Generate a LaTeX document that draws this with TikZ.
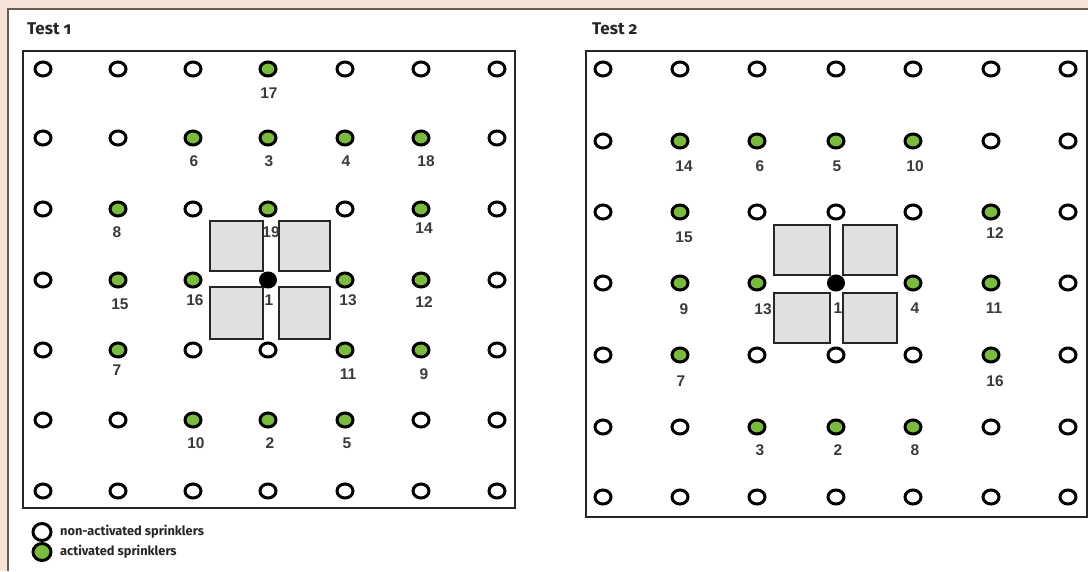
\documentclass[tikz,border=0pt]{standalone}
\usepackage{fontspec}
\setmainfont{Liberation Sans}
\newfontfamily\titlefont[Numbers=OldStyle]{Fira Sans}
\usetikzlibrary{shapes.geometric}
\definecolor{actgreen}{RGB}{122,186,62}
\definecolor{boxgray}{RGB}{224,224,224}
\definecolor{labgray}{RGB}{58,58,58}
\definecolor{peachstrip}{RGB}{246,226,214}
\definecolor{edgebrown}{RGB}{105,90,82}
\begin{document}
\begin{tikzpicture}[x=1pt,y=-1pt,
  spr/.style={ellipse,draw=black,line width=3pt,fill=white,minimum width=16pt,minimum height=14pt,inner sep=0pt},
  act/.style={fill=actgreen},
  centre/.style={fill=black,minimum width=15pt,minimum height=14pt},
  lab/.style={font=\bfseries\fontsize{15.5}{15.5}\selectfont,text=labgray,inner sep=0pt},
  testframe/.style={draw=black!85,line width=2.4pt},
  obst/.style={draw=black!85,line width=1.8pt,fill=boxgray},
  titletext/.style={font=\titlefont\bfseries\fontsize{17}{17}\selectfont,anchor=base west,inner sep=0pt,text=black!85},
  legtext/.style={font=\titlefont\bfseries\fontsize{12.8}{12.8}\selectfont,anchor=west,inner sep=0pt,text=black!85},
  % activated sprinklers, test 1
  t1-1-4/.style=act,
  t1-2-3/.style=act, t1-2-4/.style=act, t1-2-5/.style=act, t1-2-6/.style=act,
  t1-3-2/.style=act, t1-3-4/.style=act, t1-3-6/.style=act,
  t1-4-2/.style=act, t1-4-3/.style=act, t1-4-4/.style=centre, t1-4-5/.style=act, t1-4-6/.style=act,
  t1-5-2/.style=act, t1-5-5/.style=act, t1-5-6/.style=act,
  t1-6-3/.style=act, t1-6-4/.style=act, t1-6-5/.style=act,
  % activated sprinklers, test 2
  t2-2-2/.style=act, t2-2-3/.style=act, t2-2-4/.style=act, t2-2-5/.style=act,
  t2-3-2/.style=act, t2-3-6/.style=act,
  t2-4-2/.style=act, t2-4-3/.style=act, t2-4-4/.style=centre, t2-4-5/.style=act, t2-4-6/.style=act,
  t2-5-2/.style=act, t2-5-6/.style=act,
  t2-6-3/.style=act, t2-6-4/.style=act, t2-6-5/.style=act
]
\useasboundingbox (0,0) rectangle (1088,571);
\fill[white] (0,0) rectangle (1088,571);
% outer page edge
\draw[peachstrip,line width=8pt] (0,4) -- (1088,4);
\draw[peachstrip,line width=7pt] (3.5,0) -- (3.5,571);
\draw[edgebrown,line width=1.4pt] (8,571) -- (8,9) -- (1088,9);

% titles
\node[titletext] (title1) at (27,34) {Test 1};
\node[titletext] (title2) at (592,34) {Test 2};

% frames
\draw[testframe] (23,51) rectangle (515,508);
\draw[testframe] (586,51) rectangle (1087,517);

% obstructions test 1
\draw[obst] (210,221) rectangle (263,271);
\draw[obst] (279,221) rectangle (330,271);
\draw[obst] (210,287) rectangle (263,339);
\draw[obst] (279,287) rectangle (330,339);
% obstructions test 2
\draw[obst] (774,225) rectangle (830,275);
\draw[obst] (843,225) rectangle (897,275);
\draw[obst] (774,293) rectangle (830,343);
\draw[obst] (843,293) rectangle (897,343);

% sprinkler grid test 1
\foreach \r/\y in {1/69,2/138,3/209,4/280,5/350,6/420,7/491}
  \foreach \c/\x in {1/43,2/118,3/193,4/268,5/345,6/421,7/497}
    \node[spr,t1-\r-\c/.try] (a\r\c) at (\x,\y) {};
% sprinkler grid test 2
\foreach \r/\y in {1/69,2/141,3/212,4/283,5/355,6/427,7/497}
  \foreach \c/\x in {1/603,2/680,3/757,4/836,5/913,6/991,7/1068}
    \node[spr,t2-\r-\c/.try] (b\r\c) at (\x,\y) {};

% labels test 1
\node[lab] (la17) at (269,93) {17};
\node[lab] (la6) at (194,161) {6};
\node[lab] (la3) at (269,161) {3};
\node[lab] (la4) at (346,161) {4};
\node[lab] (la18) at (426,161) {18};
\node[lab] (la8) at (117,232) {8};
\node[lab] (la19) at (271,232) {19};
\node[lab] (la14) at (424,228) {14};
\node[lab] (la15) at (120,304) {15};
\node[lab] (la16) at (195,300) {16};
\node[lab] (la1) at (269,300) {1};
\node[lab] (la13) at (348,300) {13};
\node[lab] (la12) at (424,302) {12};
\node[lab] (la7) at (117,370) {7};
\node[lab] (la11) at (348,374) {11};
\node[lab] (la9) at (424,374) {9};
\node[lab] (la10) at (196,443) {10};
\node[lab] (la2) at (270,443) {2};
\node[lab] (la5) at (347,443) {5};

% labels test 2
\node[lab] (lb14) at (684,166) {14};
\node[lab] (lb6) at (760,166) {6};
\node[lab] (lb5) at (837,166) {5};
\node[lab] (lb10) at (915,166) {10};
\node[lab] (lb15) at (684,237) {15};
\node[lab] (lb12) at (995,233) {12};
\node[lab] (lb9) at (684,309) {9};
\node[lab] (lb13) at (763,309) {13};
\node[lab] (lb1) at (838,308) {1};
\node[lab] (lb4) at (915,308) {4};
\node[lab] (lb11) at (994,308) {11};
\node[lab] (lb7) at (681,381) {7};
\node[lab] (lb16) at (995,381) {16};
\node[lab] (lb3) at (760,450) {3};
\node[lab] (lb2) at (838,450) {2};
\node[lab] (lb8) at (915,450) {8};

% legend
\node[spr,minimum width=18pt,minimum height=17pt] (legoff) at (42,532) {};
\node[spr,act,minimum width=18pt,minimum height=17pt] (legon) at (42,552) {};
\node[legtext] (legofftext) at (60,532) {non-activated sprinklers};
\node[legtext] (legontext) at (60,552) {activated sprinklers};
\end{tikzpicture}
\end{document}
